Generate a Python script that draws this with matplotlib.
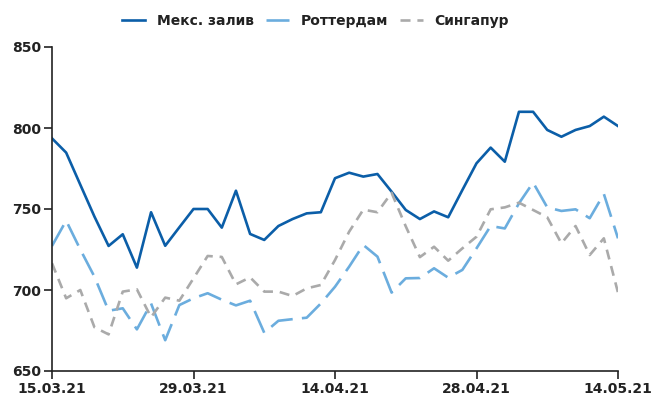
import matplotlib.pyplot as plt

# цены по трём регионам, 41 торговый день
mex = [793.6, 784.8, 765, 745.3, 727.2, 734.4, 713.8, 748, 727.3, 738.7,
       750, 750, 738.5, 761.3, 734.6, 730.9, 739.5, 743.8, 747.3, 748,
       769, 772.4, 770, 771.6, 760.7, 749.4, 743.8, 748.5, 744.9, 761.7,
       778.2, 787.9, 779.2, 810, 810, 798.8, 794.6, 798.8, 801.2, 807, 801.2]
rott = [727.2, 742.8, 725, 708.2, 687.2, 688.7, 675.7, 691.7, 669, 690.7,
        694.9, 698, 694, 690.5, 693.4, 673.6, 681, 682, 682.9, 691.7,
        702, 714.4, 727.8, 720.6, 698.4, 707.2, 707.4, 713.4, 707.6, 712.4,
        725.7, 739.5, 738, 753.5, 766.3, 751, 748.8, 749.8, 744.3, 759.3, 731.9]
sing = [716.5, 694.9, 700, 677, 672.6, 699, 700.4, 683.2, 695.3, 693.4,
        707.2, 721, 720.4, 703.5, 707.8, 699, 699, 696.3, 701, 703.1,
        718.5, 736, 749.6, 748, 760, 739.3, 720.3, 726.7, 718.1, 725.7,
        732.9, 749.8, 751, 753.9, 749.4, 744.9, 728.8, 739.5, 721.6, 731.9, 698.4]
tick_labels = ['15.03.21', '29.03.21', '14.04.21', '28.04.21', '14.05.21']

x = list(range(len(mex)))

fig = plt.figure(figsize=(6.52, 4.03), dpi=100)
ax = fig.add_axes([52/652, 1-371/403, (618-52)/652, (371-47)/403])

ax.plot(x, mex, color='#0b5ea8', lw=1.9, label='Мекс. залив')
ax.plot(x, rott, color='#6badde', lw=1.9, dashes=(9, 3.5), label='Роттердам')
ax.plot(x, sing, color='#aaaaaa', lw=1.9, dashes=(3.8, 2.6), label='Сингапур')

ax.set_xlim(0, len(mex) - 1)
ax.set_ylim(650, 850)
ax.set_yticks([650, 700, 750, 800, 850])
ax.set_xticks(range(0, len(mex), 10))
ax.set_xticklabels(tick_labels)

for s in ['top', 'right']:
    ax.spines[s].set_visible(False)
for s in ['left', 'bottom']:
    ax.spines[s].set_color('#222222')
    ax.spines[s].set_linewidth(1.2)
ax.tick_params(length=6, width=1.2, color='#222222', labelsize=10, pad=2)
for lab in ax.get_xticklabels() + ax.get_yticklabels():
    lab.set_fontweight('bold')
    lab.set_color('#222222')

leg = ax.legend(loc='center', bbox_to_anchor=(0.466, 1.08), ncol=3, frameon=False,
                prop={'weight': 'bold', 'size': 10}, handlelength=1.65,
                columnspacing=0.85, handletextpad=0.85)
for t in leg.get_texts():
    t.set_color('#222222')

plt.savefig('out.png')
plt.close()
